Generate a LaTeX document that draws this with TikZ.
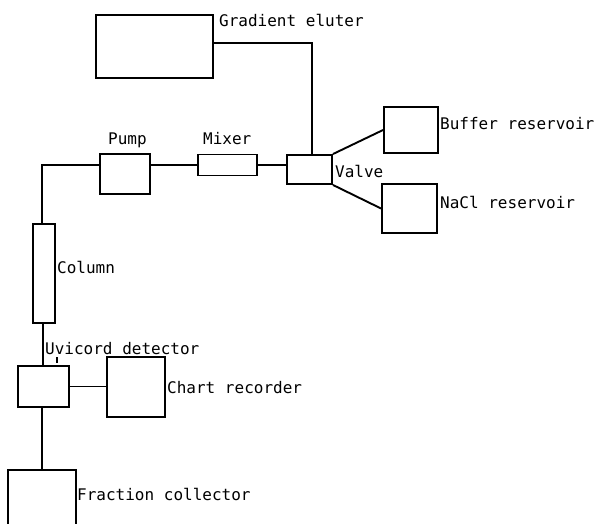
\documentclass[tikz,border=0pt]{standalone}
\usepackage{fontspec}
\newfontfamily\plotfont{DejaVu Sans Mono}
\tikzset{
  unit/.style={draw, line width=1.9pt, rectangle, inner sep=0pt, fill=white},
  lbl/.style={anchor=base west, inner sep=0pt, font=\plotfont\fontsize{16}{17}\selectfont},
  pipe/.style={line width=1.9pt},
}
\begin{document}
\begin{tikzpicture}[x=1pt,y=-1pt]
\useasboundingbox (0,0) rectangle (597,524);
\clip (0,0) rectangle (597,524);
% units
\node[unit, minimum width=117pt, minimum height=63pt] (grad) at (154.5,46.5) {};
\node[unit, minimum width=45pt, minimum height=29pt] (valve) at (309.5,169.5) {};
\node[unit, minimum width=54pt, minimum height=46pt] (buffer) at (411,130) {};
\node[unit, minimum width=55pt, minimum height=49pt] (nacl) at (409.5,208.5) {};
\node[unit, minimum width=50pt, minimum height=40pt] (pump) at (125,174) {};
\node[unit, minimum width=59pt, minimum height=21pt] (mixer) at (227.5,165) {};
\node[unit, minimum width=22pt, minimum height=99pt] (column) at (44,273.5) {};
\node[unit, minimum width=51pt, minimum height=41pt] (det) at (43.5,386.5) {};
\node[unit, minimum width=58pt, minimum height=60pt] (chart) at (136,387) {};
\node[unit, minimum width=68pt, minimum height=70pt] (frac) at (42,505) {};
% labels
\node[lbl] (lgrad) at (219,27) {Gradient eluter};
\node[lbl] (lvalve) at (335,177) {Valve};
\node[lbl] (lbuf) at (440,130) {Buffer reservoir};
\node[lbl] (lnacl) at (440,208) {NaCl reservoir};
\node[lbl] (lpump) at (108,145) {Pump};
\node[lbl] (lmix) at (203,145) {Mixer};
\node[lbl] (lcol) at (57,273) {Column};
\node[lbl] (ldet) at (45,354) {Uvicord detector};
\node[lbl] (lchart) at (167,393) {Chart recorder};
\node[lbl] (lfrac) at (77,500) {Fraction collector};
% connectors
\draw[pipe] (grad.east |- 0,43) -| ([xshift=2.5pt]valve.north);
\draw[pipe] (valve.north east) -- (buffer.west);
\draw[pipe] (valve.south east) -- (nacl.west);
\draw[pipe] (pump.east |- mixer.west) -- (mixer.west);
\draw[pipe] (mixer.east) -- (mixer.east -| valve.west);
\draw[pipe] (pump.west |- mixer.west) -| ([xshift=-2pt]column.north);
\draw[pipe] ([xshift=-1pt]column.south) -- ([xshift=-1pt]column.south |- det.north);
\draw[pipe] (det.east) -- (det.east -| chart.west);
\draw[pipe] ([xshift=-1.5pt]det.south) -- ([xshift=-1.5pt]det.south |- frac.north);
\coordinate (tick) at (57,357);
\draw[line width=1.2pt] (tick) -- ++(0,6);
\end{tikzpicture}
\end{document}
